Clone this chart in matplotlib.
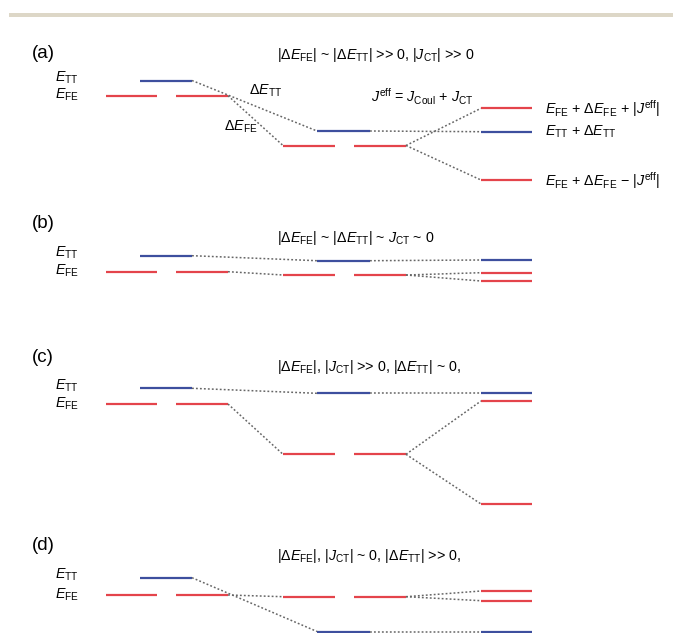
import matplotlib
matplotlib.use("Agg")
import matplotlib.pyplot as plt

plt.rcParams['font.family'] = ['Liberation Sans', 'DejaVu Sans']
plt.rcParams['mathtext.fontset'] = 'custom'
plt.rcParams['mathtext.rm'] = 'Liberation Sans'
plt.rcParams['mathtext.it'] = 'Liberation Sans:italic'
plt.rcParams['mathtext.bf'] = 'Liberation Sans:bold'

# ---- data: level heights per panel (a)-(d), in figure units (downwards) ----
panels = ['(a)', '(b)', '(c)', '(d)']
panel_label_y = [54, 223, 358, 545]
titles = [r'$|\Delta E_{\rm FE}|$ ~ $|\Delta E_{\rm TT}|$ >> 0, $|J_{\rm CT}|$ >> 0',
          r'$|\Delta E_{\rm FE}|$ ~ $|\Delta E_{\rm TT}|$ ~ $J_{\rm CT}$ ~ 0',
          r'$|\Delta E_{\rm FE}|$, $|J_{\rm CT}|$ >> 0, $|\Delta E_{\rm TT}|$ ~ 0,',
          r'$|\Delta E_{\rm FE}|$, $|J_{\rm CT}|$ ~ 0, $|\Delta E_{\rm TT}|$ >> 0,']
title_y = [55, 238, 367, 556]
TT_left = [80.5, 255.7, 388.3, 577.7]
FE_left = [95.7, 271.7, 404.0, 595.0]
TT_mid = [131.0, 260.7, 393.3, 631.5]
FE_mid = [145.5, 275.0, 454.3, 596.7]
TT_right = [131.7, 260.0, 393.3, 631.5]
FE_plus = [108.3, 272.7, 401.0, 591.0]
FE_minus = [180.0, 281.0, 504.0, 600.7]

RED = '#e4444b'
BLUE = '#3d4f9e'
GREY = '#666666'

W, H = 673, 633
fig = plt.figure(figsize=(W / 100, H / 100), dpi=100)
ax = fig.add_axes([0, 0, 1, 1])
ax.set_xlim(0, W)
ax.set_ylim(H, 0)
ax.axis('off')

# top rule
ax.fill_between([9, W], 12.5, 17, color='#ddd7c7', lw=0)

LW = 1.6
dot = dict(color=GREY, lw=1.1, ls=(0, (1.2, 1.4)))

# column extents
xl_blue = (140, 192)
xl_red1 = (106, 157)
xl_red2 = (176, 228)
xm_blue = (317, 370)
xm_red1 = (283, 335)
xm_red2 = (354, 406)
xr = (481, 532)

fs = 10.3
for i in range(4):
    ax.text(32, panel_label_y[i], panels[i], fontsize=13.5, va='center', ha='left')
    ax.text(277, title_y[i], titles[i], fontsize=fs, va='center', ha='left')
    ax.text(55, TT_left[i] - 2.5, r'$E_{\rm TT}$', fontsize=fs, va='center', ha='left')
    ax.text(55, FE_left[i] - 0.5, r'$E_{\rm FE}$', fontsize=fs, va='center', ha='left')

    # levels
    ax.plot(xl_blue, [TT_left[i]] * 2, color=BLUE, lw=LW, solid_capstyle='butt')
    ax.plot(xl_red1, [FE_left[i]] * 2, color=RED, lw=LW, solid_capstyle='butt')
    ax.plot(xl_red2, [FE_left[i]] * 2, color=RED, lw=LW, solid_capstyle='butt')
    ax.plot(xm_blue, [TT_mid[i]] * 2, color=BLUE, lw=LW, solid_capstyle='butt')
    ax.plot(xm_red1, [FE_mid[i]] * 2, color=RED, lw=LW, solid_capstyle='butt')
    ax.plot(xm_red2, [FE_mid[i]] * 2, color=RED, lw=LW, solid_capstyle='butt')
    ax.plot(xr, [TT_right[i]] * 2, color=BLUE, lw=LW, solid_capstyle='butt')
    ax.plot(xr, [FE_plus[i]] * 2, color=RED, lw=LW, solid_capstyle='butt')
    ax.plot(xr, [FE_minus[i]] * 2, color=RED, lw=LW, solid_capstyle='butt')

    # connectors
    ax.plot([xl_blue[1], xm_blue[0]], [TT_left[i], TT_mid[i]], **dot)
    ax.plot([xl_red2[1], xm_red1[0]], [FE_left[i], FE_mid[i]], **dot)
    ax.plot([xm_blue[1], xr[0]], [TT_mid[i], TT_right[i]], **dot)
    ax.plot([xm_red2[1], xr[0]], [FE_mid[i], FE_plus[i]], **dot)
    ax.plot([xm_red2[1], xr[0]], [FE_mid[i], FE_minus[i]], **dot)

# annotations of panel (a)
ax.text(249, 91, r'$\Delta E_{\rm TT}$', fontsize=fs, va='center', ha='left')
ax.text(224, 127, r'$\Delta E_{\rm FE}$', fontsize=fs, va='center', ha='left')
ax.text(371, 97, r'$J^{\rm eff}$ = $J_{\rm Coul}$ + $J_{\rm CT}$', fontsize=fs, va='center', ha='left')
ax.text(545, FE_plus[0], r'$E_{\rm FE}$ + $\Delta E_{\rm FE}$ + $|J^{\rm eff}|$', fontsize=fs, va='center', ha='left')
ax.text(545, TT_right[0], r'$E_{\rm TT}$ + $\Delta E_{\rm TT}$', fontsize=fs, va='center', ha='left')
ax.text(545, FE_minus[0] + 1, r'$E_{\rm FE}$ + $\Delta E_{\rm FE}$ − $|J^{\rm eff}|$', fontsize=fs, va='center', ha='left')

fig.savefig('out.png', dpi=100)
